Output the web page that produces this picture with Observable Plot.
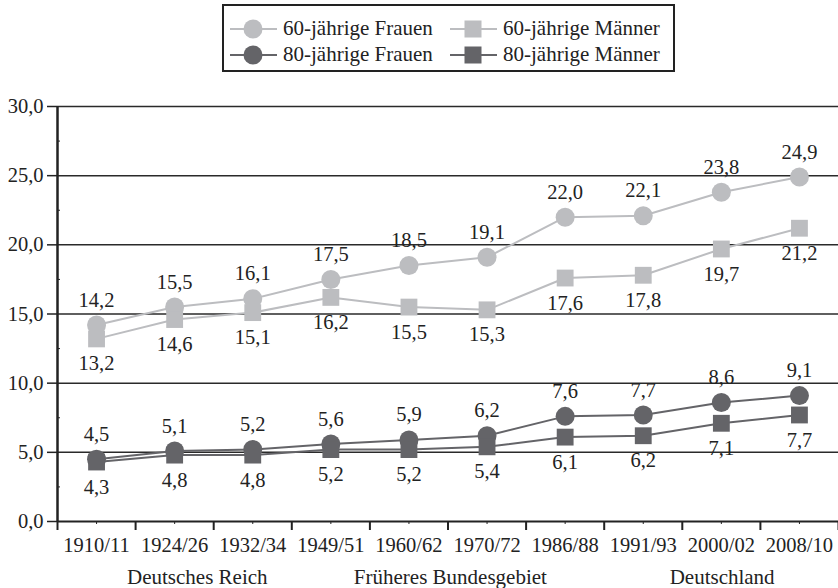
<!DOCTYPE html>
<html>
<head>
<meta charset="utf-8">
<script src="https://cdn.jsdelivr.net/npm/d3@7"></script>
<script src="https://cdn.jsdelivr.net/npm/@observablehq/plot@0.6"></script>
<style>
  body { margin: 0; background: white; font-family: "Liberation Serif", serif; }
  #wrap { position: relative; width: 838px; height: 588px; }
  #legend { position: absolute; left: 222px; top: 4px; width: 449px; height: 64px; border: 2px solid #222; background: white; }
  .item { position: absolute; display: flex; align-items: center; font-size: 21px; color: #222; white-space: nowrap; }
  .item svg { margin-right: 6px; }
  #chart { position: absolute; left: 0; top: 90px; }
</style>
</head>
<body>
<div id="wrap">
  <div id="legend"></div>
  <div id="chart"></div>
</div>
<script>
const periods = ["1910/11","1924/26","1932/34","1949/51","1960/62","1970/72","1986/88","1991/93","2000/02","2008/10"];
const frauen60 = [14.2,15.5,16.1,17.5,18.5,19.1,22.0,22.1,23.8,24.9];
const maenner60 = [13.2,14.6,15.1,16.2,15.5,15.3,17.6,17.8,19.7,21.2];
const frauen80 = [4.5,5.1,5.2,5.6,5.9,6.2,7.6,7.7,8.6,9.1];
const maenner80 = [4.3,4.8,4.8,5.2,5.2,5.4,6.1,6.2,7.1,7.7];
const seriesNames = ["60-jährige Frauen","60-jährige Männer","80-jährige Frauen","80-jährige Männer"];
const groupLabels = ["Deutsches Reich","Früheres Bundesgebiet","Deutschland"];
const groupPos = [1.79, 5.03, 8.51];
const yTicks = [0,5,10,15,20,25,30];
const yMinor = [2.5,7.5,12.5,17.5,22.5,27.5];

const light = "#bcbdc0", dark = "#646468";
const specs = [
  {name: seriesNames[0], values: frauen60, color: light, symbol: "circle", dy: -25},
  {name: seriesNames[1], values: maenner60, color: light, symbol: "square", dy: 25},
  {name: seriesNames[2], values: frauen80, color: dark, symbol: "circle", dy: -25},
  {name: seriesNames[3], values: maenner80, color: dark, symbol: "square", dy: 25}
];
const rows = specs.flatMap(s => s.values.map((v, i) => ({x: i + 0.5, v, series: s.name, color: s.color, symbol: s.symbol, dy: s.dy})));
const fmt = v => v.toFixed(1).replace(".", ",");

// legend
const legend = document.getElementById("legend");
const legPos = [[6, 10], [226, 10], [6, 36], [226, 36]];
specs.forEach((s, k) => {
  const d = document.createElement("div");
  d.className = "item";
  d.style.left = legPos[k][0] + "px";
  d.style.top = legPos[k][1] + "px";
  const sym = s.symbol === "circle"
    ? `<circle cx="23" cy="11" r="9.5" fill="${s.color}"/>`
    : `<rect x="14.5" y="2.5" width="17" height="17" fill="${s.color}"/>`;
  d.innerHTML = `<svg width="47" height="22"><line x1="0" x2="47" y1="11" y2="11" stroke="${s.color}" stroke-width="2"/>${sym}</svg><span>${s.name}</span>`;
  legend.appendChild(d);
});

const fs = 20.5;
const plot = Plot.plot({
  width: 838,
  height: 498,
  marginTop: 16,
  marginBottom: 67,
  marginLeft: 57,
  marginRight: 0,
  style: {fontFamily: "Liberation Serif, serif", fontSize: fs + "px", color: "#222", background: "white", overflow: "visible"},
  x: {domain: [0, 10], axis: null},
  y: {domain: [0, 30], axis: null},
  marks: [
    Plot.ruleY(yTicks.filter(d => d > 0), {stroke: "#2a2a2a", strokeWidth: 1.5}),
    Plot.axisY({ticks: yTicks, tickSize: 10, tickPadding: 4, tickFormat: fmt, label: null, stroke: "#222", strokeWidth: 1.5, fontSize: fs}),
    Plot.axisY({ticks: yMinor, tickSize: -3, tickFormat: () => "", label: null, stroke: "#222"}),
    Plot.axisX({ticks: d3.range(11), tickSize: 9, tickFormat: () => "", label: null, stroke: "#222", strokeWidth: 2}),
    Plot.axisX({ticks: d3.range(10).map(i => i + 0.5), tickSize: 3, tickPadding: 13, tickFormat: d => periods[Math.floor(d)], label: null, stroke: "#222", fontSize: fs}),
    Plot.ruleY([0], {stroke: "#222", strokeWidth: 2}),
    Plot.ruleX([0], {stroke: "#222", strokeWidth: 2.5}),
    Plot.line(rows, {x: "x", y: "v", z: "series", stroke: "color", strokeWidth: 2}),
    Plot.dot(rows, {x: "x", y: "v", fill: "color", symbol: "symbol", r: 9.5}),
    ...specs.map(s => Plot.text(rows.filter(r => r.series === s.name), {x: "x", y: "v", text: d => fmt(d.v), dy: s.dy, fill: "#222", fontSize: fs})),
    Plot.text(groupLabels, {x: (d, i) => groupPos[i], frameAnchor: "bottom", dy: 62, text: d => d, fill: "#222", fontSize: 21})
  ]
});
document.getElementById("chart").appendChild(plot);
</script>
</body>
</html>
